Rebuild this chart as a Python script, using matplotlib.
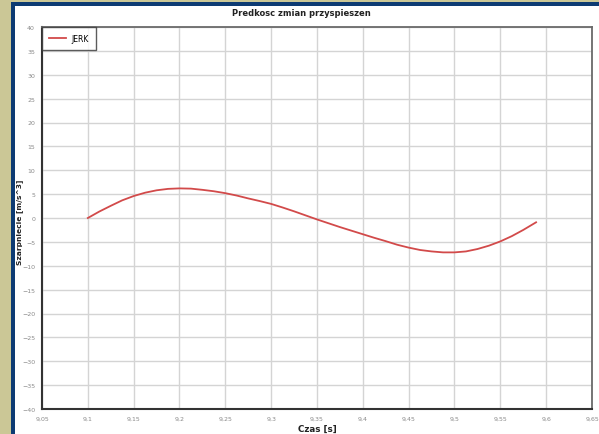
import matplotlib
matplotlib.use("Agg")
import matplotlib.pyplot as plt
import matplotlib.patches as mpatches
import matplotlib.ticker as mticker

# values
czas = [9.1000, 9.1125, 9.1250, 9.1375, 9.1500, 9.1625, 9.1750, 9.1875,
        9.2000, 9.2125, 9.2250, 9.2375, 9.2500, 9.2625, 9.2750, 9.2875,
        9.3000, 9.3125, 9.3250, 9.3375, 9.3500, 9.3625, 9.3750, 9.3875,
        9.4000, 9.4125, 9.4250, 9.4375, 9.4500, 9.4625, 9.4750, 9.4875,
        9.5000, 9.5125, 9.5250, 9.5375, 9.5500, 9.5625, 9.5750, 9.5890]
jerk = [0.0, 1.35, 2.55, 3.7, 4.6, 5.3, 5.8, 6.1,
        6.2, 6.15, 5.9, 5.6, 5.2, 4.7, 4.1, 3.55,
        2.95, 2.2, 1.4, 0.55, -0.3, -1.1, -1.9, -2.65,
        -3.4, -4.15, -4.85, -5.6, -6.2, -6.7, -7.0, -7.2,
        -7.2, -7.0, -6.5, -5.8, -4.9, -3.8, -2.5, -0.9]

x_ticks = [9.05, 9.1, 9.15, 9.2, 9.25, 9.3, 9.35, 9.4, 9.45, 9.5, 9.55, 9.6, 9.65]
y_ticks = list(range(-40, 45, 5))

W, H = 599, 435
fig = plt.figure(figsize=(W / 100, H / 100), dpi=100)
fig.patch.set_facecolor("white")

# frame decoration: khaki margin and dark blue stripe
khaki = "#cbc796"
blue = "#0d3b73"
fig.patches.append(mpatches.Rectangle((0, 0), 11 / W, 1, transform=fig.transFigure,
                                      facecolor=khaki, edgecolor="none", zorder=-2))
fig.patches.append(mpatches.Rectangle((0, 1 - 3 / H), 1, 3 / H, transform=fig.transFigure,
                                      facecolor=khaki, edgecolor="none", zorder=-2))
fig.patches.append(mpatches.Rectangle((11 / W, 0), 4 / W, 1 - 3 / H, transform=fig.transFigure,
                                      facecolor=blue, edgecolor="none", zorder=-1))
fig.patches.append(mpatches.Rectangle((11 / W, 1 - 7 / H), 1, 4 / H, transform=fig.transFigure,
                                      facecolor=blue, edgecolor="none", zorder=-1))

ax = fig.add_axes([42 / W, 1 - 410 / H, 550 / W, 382 / H])
ax.plot(czas, jerk, color="#d24a4a", lw=1.3, label="JERK")

ax.set_xlim(9.05, 9.65)
ax.set_ylim(-40, 40)
ax.set_xticks(x_ticks)
ax.set_yticks(y_ticks)
ax.xaxis.set_major_formatter(mticker.FuncFormatter(lambda v, p: f"{v:g}".replace(".", ",")))
ax.tick_params(length=0, labelsize=4.5, labelcolor="#8a8a8a", pad=5)
ax.grid(True, color="#d4d4d4", lw=1)
ax.set_axisbelow(True)
for side in ["top", "right"]:
    ax.spines[side].set_color("#6a6a6a")
    ax.spines[side].set_linewidth(1.3)
for side in ["left", "bottom"]:
    ax.spines[side].set_color("#333333")
    ax.spines[side].set_linewidth(1.5)

fig.text(301 / W, 1 - 14 / H, "Predkosc zmian przyspieszen", ha="center", va="center",
         fontsize=6, fontweight="bold", color="#222222")
ax.set_xlabel("Czas [s]", fontsize=6.3, fontweight="bold", color="#222222", labelpad=2)
fig.text(20 / W, 1 - 222 / H, "Szarpniecie [m/s^3]", ha="center", va="center", rotation=90,
         fontsize=5.4, fontweight="bold", color="#222222")

leg = ax.legend(loc="upper left", fontsize=5.5, frameon=True, fancybox=False,
                borderaxespad=0, handlelength=2.2, borderpad=0.9, handletextpad=0.8)
leg.get_frame().set_edgecolor("#333333")
leg.get_frame().set_linewidth(1.0)

fig.savefig("out.png", dpi=100)
